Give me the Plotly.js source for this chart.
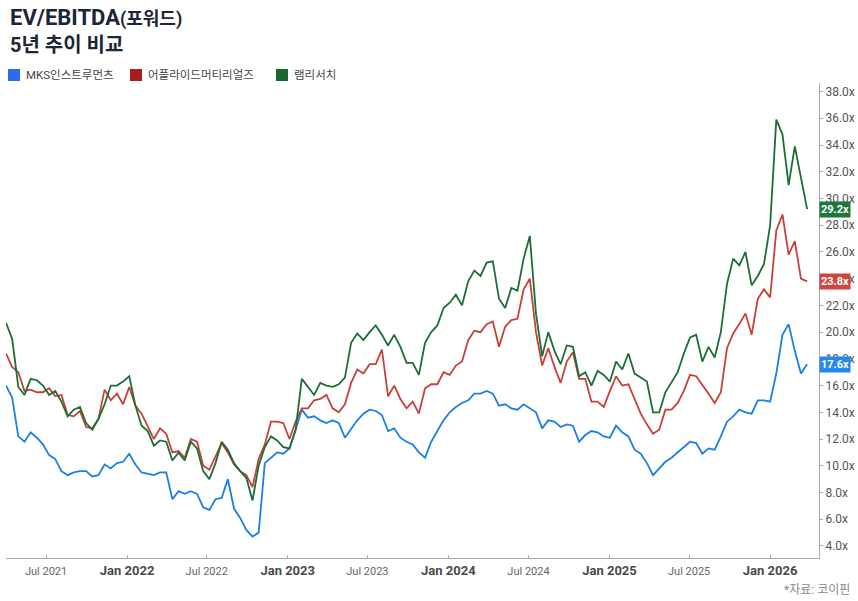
<!DOCTYPE html>
<html>
<head>
<meta charset="utf-8">
<script src="https://cdn.plot.ly/plotly-3.0.1.min.js"></script>
<style>
  html, body { margin: 0; padding: 0; background: #fff; }
  #chart { width: 858px; height: 601px; }
</style>
</head>
<body>
<div id="chart"></div>
<script>
// biweekly observations, 2021-04-01 .. 2026-03-26
const START_DATE = '2021-04-01';
const STEP_DAYS = 14;

const NAMES = ['MKS인스트루먼츠', '어플라이드머티리얼즈', '램리서치'];

const MKS = [
  16.0, 15.1, 12.2, 11.8, 12.5, 12.1, 11.6, 10.8, 10.5, 9.6,
  9.3, 9.5, 9.6, 9.6, 9.2, 9.3, 10.1, 9.8, 10.2, 10.3,
  10.9, 10.1, 9.5, 9.4, 9.3, 9.5, 9.5, 7.5, 8.1, 7.9,
  8.1, 7.9, 6.9, 6.7, 7.5, 7.6, 9.0, 6.8, 6.1, 5.2,
  4.7, 5.0, 10.2, 10.6, 11.0, 10.9, 11.3, 12.7, 14.2, 13.6,
  13.7, 13.4, 13.2, 13.4, 13.2, 12.1, 12.8, 13.4, 13.9, 14.2,
  14.1, 13.8, 12.6, 12.8, 12.1, 11.8, 11.6, 11.0, 10.6, 11.8,
  12.6, 13.4, 14.0, 14.4, 14.7, 14.9, 15.4, 15.4, 15.6, 15.4,
  14.5, 14.6, 14.3, 14.2, 14.6, 14.3, 14.0, 12.8, 13.4, 13.3,
  12.9, 13.1, 13.0, 11.8, 12.3, 12.6, 12.5, 12.2, 12.1, 13.0,
  12.5, 12.2, 11.2, 10.9, 10.2, 9.3, 9.8, 10.3, 10.6, 11.0,
  11.4, 11.8, 11.7, 10.9, 11.3, 11.2, 12.2, 13.3, 13.7, 14.2,
  14.0, 13.9, 14.9, 14.9, 14.8, 16.9, 19.8, 20.6, 18.6, 16.9,
  17.6
];

const AMAT = [
  18.4, 17.4, 17.0, 15.6, 15.7, 15.5, 15.5, 15.8, 15.2, 15.3,
  13.8, 13.7, 14.1, 12.9, 12.8, 13.5, 15.7, 14.9, 15.4, 14.6,
  15.9, 14.5, 13.9, 13.0, 12.0, 12.8, 12.4, 11.0, 11.1, 10.6,
  12.0, 11.8, 10.0, 9.7, 10.7, 11.7, 11.0, 10.1, 9.6, 9.3,
  8.4, 10.5, 11.6, 13.3, 13.3, 13.2, 12.0, 13.3, 14.3, 14.3,
  14.9, 15.0, 15.3, 14.3, 14.0, 14.6, 16.2, 17.2, 16.9, 17.6,
  17.6, 18.7, 15.2, 16.0, 15.0, 14.3, 14.8, 13.9, 15.8, 16.1,
  16.1, 17.0, 16.8, 17.5, 17.8, 19.4, 20.1, 20.0, 20.6, 20.8,
  18.9, 20.4, 20.9, 21.0, 23.2, 24.0, 20.0, 17.5, 18.8, 17.4,
  16.2, 17.8, 18.5, 16.5, 16.5, 14.8, 14.8, 14.4, 15.6, 16.7,
  16.0, 16.1, 15.0, 13.9, 13.1, 12.4, 12.7, 14.2, 14.2, 14.7,
  15.6, 16.8, 16.7, 16.0, 15.4, 14.7, 15.5, 18.8, 19.9, 20.6,
  21.4, 19.8, 22.5, 23.2, 22.6, 27.6, 28.8, 25.8, 26.8, 24.0,
  23.8
];

const LRCX = [
  20.7, 19.5, 15.9, 15.3, 16.5, 16.4, 16.0, 15.3, 15.6, 14.8,
  13.7, 14.2, 14.4, 13.2, 12.7, 13.5, 14.6, 16.0, 16.0, 16.3,
  16.7, 14.5, 13.0, 12.6, 11.5, 11.9, 11.8, 10.4, 11.0, 10.4,
  11.8, 11.3, 9.6, 9.0, 10.2, 11.8, 11.2, 10.2, 9.6, 9.1,
  7.4, 10.0, 11.4, 12.2, 11.9, 11.4, 11.3, 12.7, 16.5, 15.9,
  15.3, 16.2, 16.0, 15.9, 16.1, 16.6, 19.2, 19.9, 19.4, 20.0,
  20.5, 19.8, 19.0, 19.8, 18.9, 17.7, 17.7, 16.8, 19.2, 20.0,
  20.5, 21.8, 22.2, 22.8, 22.0, 23.8, 24.6, 24.2, 25.2, 25.3,
  22.5, 21.8, 23.3, 23.1, 25.5, 27.2, 21.4, 18.2, 20.0, 18.6,
  17.6, 19.0, 18.9, 16.7, 17.0, 16.0, 17.1, 16.8, 16.3, 17.8,
  17.2, 18.4, 16.9, 16.6, 16.3, 14.0, 14.0, 15.5, 16.2, 17.0,
  18.4, 19.6, 19.8, 17.8, 18.9, 18.1, 20.0, 23.6, 25.5, 25.0,
  26.0, 23.5, 24.2, 25.1, 28.0, 35.9, 34.8, 31.0, 33.9, 31.5,
  29.2
];

const X_TICKS = ['2021-07-01', '2022-01-01', '2022-07-01', '2023-01-01', '2023-07-01',
                 '2024-01-01', '2024-07-01', '2025-01-01', '2025-07-01', '2026-01-01'];
const Y_TICKS = [4, 6, 8, 10, 12, 14, 16, 18, 20, 22, 24, 26, 28, 30, 32, 34, 36, 38];

const LINE_COLORS  = ['#1a80e6', '#c8403a', '#1c6e36'];
const SWATCH_COLORS = ['#2a6cf0', '#a51f1f', '#1b6631'];
const BADGE_COLORS = ['#2389f0', '#d0463f', '#1e783d'];

const FONT = 'Roboto, "Noto Sans CJK KR", sans-serif';

function makeDates(n) {
  const t0 = Date.parse(START_DATE + 'T00:00:00Z');
  const out = [];
  for (let i = 0; i < n; i++) {
    out.push(new Date(t0 + i * STEP_DAYS * 86400000).toISOString().slice(0, 10));
  }
  return out;
}

const dates = makeDates(MKS.length);
const series = [MKS, AMAT, LRCX];

const traces = series.map((vals, k) => ({
  type: 'scatter', mode: 'lines',
  x: dates, y: vals, name: NAMES[k],
  line: { color: LINE_COLORS[k], width: 1.8 },
  hoverinfo: 'skip', showlegend: false
}));

function tickText(d) {
  const dt = new Date(d + 'T00:00:00Z');
  const mon = dt.getUTCMonth() === 0 ? 'Jan' : 'Jul';
  const label = mon + ' ' + dt.getUTCFullYear();
  return mon === 'Jan' ? '<b>' + label + '</b>'
                       : '<span style="font-size:11px;color:#666">' + label + '</span>';
}

const annotations = [
  { text: '<b>EV/EBITDA</b><b><span style="font-size:18px">(포워드)</span></b>',
    xref: 'paper', yref: 'paper', x: 0, y: 1, xshift: 2, yshift: 66,
    xanchor: 'left', yanchor: 'middle', showarrow: false,
    font: { family: FONT, size: 22, color: '#1c2636' } },
  { text: '<b>5년 추이 비교</b>',
    xref: 'paper', yref: 'paper', x: 0, y: 1, xshift: 2, yshift: 38,
    xanchor: 'left', yanchor: 'middle', showarrow: false,
    font: { family: FONT, size: 20, color: '#1c2636' } },
  { text: '*자료: 코이핀',
    xref: 'paper', yref: 'paper', x: 1, y: 0, xshift: 33, yshift: -32,
    xanchor: 'right', yanchor: 'middle', showarrow: false,
    font: { family: FONT, size: 12, color: '#888' } }
];

// legend: swatch + label
const LEGEND_X = [8, 130, 276];
const shapes = [];
NAMES.forEach((name, k) => {
  shapes.push({
    type: 'rect', xref: 'paper', yref: 'paper',
    xsizemode: 'pixel', ysizemode: 'pixel', xanchor: 0, yanchor: 1,
    x0: LEGEND_X[k] - 6, x1: LEGEND_X[k] - 6 + 12, y0: 2, y1: 14,
    fillcolor: SWATCH_COLORS[k], line: { width: 0 }
  });
  annotations.push({
    text: name, xref: 'paper', yref: 'paper', x: 0, y: 1,
    xshift: LEGEND_X[k] - 6 + 16, yshift: 8,
    xanchor: 'left', yanchor: 'middle', showarrow: false,
    font: { family: FONT, size: 11.5, color: '#444' }
  });
});

// last-value badges on the right axis
series.forEach((vals, k) => {
  const last = vals[vals.length - 1];
  annotations.push({
    text: '<b>' + last.toFixed(1) + 'x</b>',
    xref: 'paper', yref: 'y', x: 1, y: last, xanchor: 'left', yanchor: 'middle',
    showarrow: false, bgcolor: BADGE_COLORS[k], borderpad: 1,
    font: { family: FONT, size: 11, color: '#fff' }
  });
});

const layout = {
  width: 858, height: 601,
  margin: { l: 6, r: 39, t: 83, b: 43 },
  paper_bgcolor: '#fff', plot_bgcolor: '#fff',
  font: { family: FONT, color: '#555' },
  showlegend: false,
  xaxis: {
    type: 'date', range: ['2021-04-01', '2026-04-22'],
    tickvals: X_TICKS, ticktext: X_TICKS.map(tickText),
    tickfont: { family: FONT, size: 13, color: '#4a4a4a' },
    showgrid: false, zeroline: false,
    showline: true, linecolor: '#aaa', linewidth: 1,
    ticks: 'inside', ticklen: 3, tickcolor: '#aaa'
  },
  yaxis: {
    side: 'right', range: [3.1, 38.64],
    tickvals: Y_TICKS, ticktext: Y_TICKS.map(v => v.toFixed(1) + 'x'),
    tickfont: { family: FONT, size: 12, color: '#555' },
    showgrid: false, zeroline: false,
    showline: true, linecolor: '#aaa', linewidth: 1,
    ticks: 'outside', ticklen: 3, tickcolor: '#aaa'
  },
  shapes, annotations
};

Plotly.newPlot('chart', traces, layout, { displayModeBar: false, staticPlot: true });
</script>
</body>
</html>
